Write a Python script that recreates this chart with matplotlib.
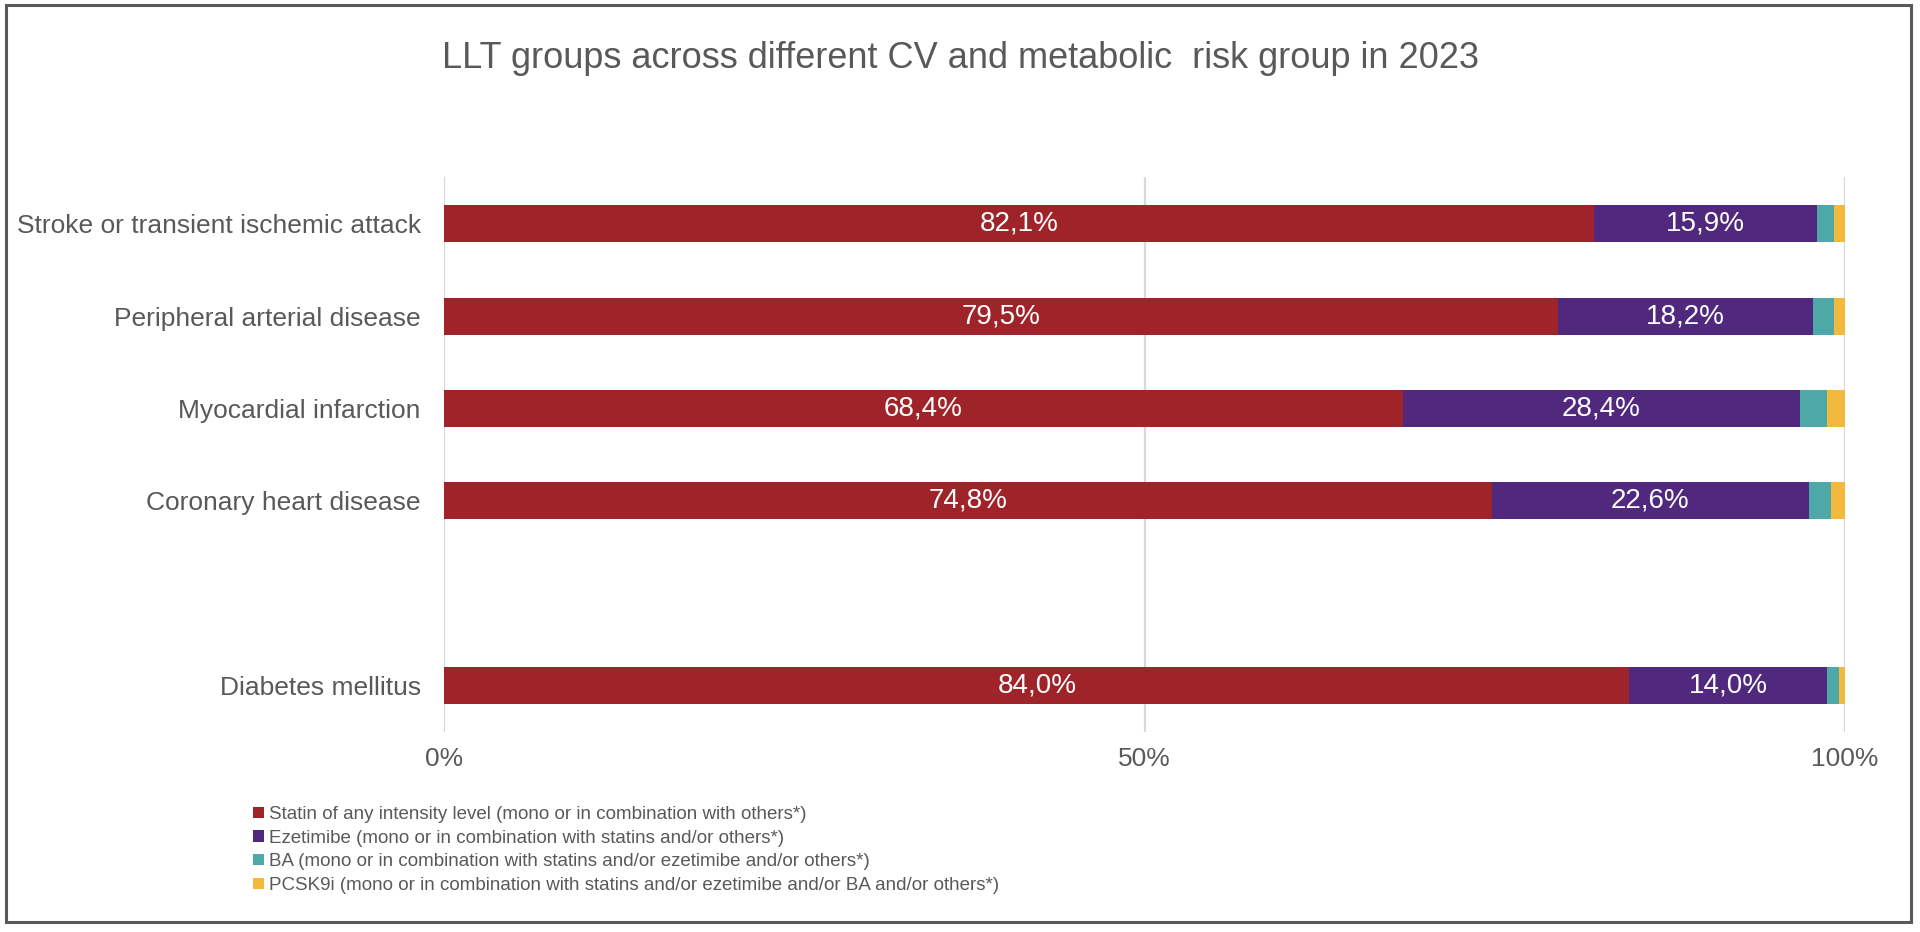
import numpy as np
import matplotlib
matplotlib.use("Agg")
import matplotlib.pyplot as plt
from matplotlib.patches import Rectangle

plt.rcParams['font.family'] = ['Liberation Sans', 'DejaVu Sans']

# data (blank row keeps the gap before diabetes)
categories = ["Diabetes mellitus", "", "Coronary heart disease", "Myocardial infarction",
              "Peripheral arterial disease", "Stroke or transient ischemic attack"]
statin = [84.0, 0, 74.8, 68.4, 79.5, 82.1]
ezetimibe = [14.0, 0, 22.6, 28.4, 18.2, 15.9]
ba = [0.9, 0, 1.6, 1.9, 1.5, 1.2]
pcsk9i = [0.4, 0, 1.0, 1.3, 0.8, 0.8]

series_names = [
    "Statin of any intensity level (mono or in combination with others*)",
    "Ezetimibe (mono or in combination with statins and/or others*)",
    "BA (mono or in combination with statins and/or ezetimibe and/or others*)",
    "PCSK9i (mono or in combination with statins and/or ezetimibe and/or BA and/or others*)",
]
colors = ["#9E242A", "#50287D", "#4FA8A8", "#F2B93D"]
title = "LLT groups across different CV and metabolic  risk group in 2023"
xticks = [0, 50, 100]
xticklabels = ["0%", "50%", "100%"]

grey = "#595959"

fig = plt.figure(figsize=(19.2, 9.32), dpi=100)
ax = fig.add_axes([0.2315, 0.2146, 0.7295, 0.595])

data = np.array([statin, ezetimibe, ba, pcsk9i], dtype=float)
totals = data.sum(axis=0)
totals[totals == 0] = 1
shares = data / totals * 100
y = np.arange(len(categories))

ax.grid(axis='x', color='#D9D9D9', linewidth=1.6)
ax.set_axisbelow(True)

left = np.zeros(len(categories))
for i in range(4):
    bars = ax.barh(y, shares[i], left=left, height=0.4, color=colors[i],
                   label=series_names[i])
    if i < 2:
        for j, b in enumerate(bars):
            if data[i][j] > 0:
                ax.text(b.get_x() + b.get_width() / 2, b.get_y() + b.get_height() / 2,
                        f"{data[i][j]:.1f}%".replace(".", ","), color="white",
                        fontsize=20, ha="center", va="center")
    left += shares[i]

ax.set_xlim(0, 100)
ax.set_ylim(-0.5, len(categories) - 0.5)
ax.set_yticks(y)
ax.set_yticklabels(categories, fontsize=19, color=grey)
ax.set_xticks(xticks)
ax.set_xticklabels(xticklabels, fontsize=19, color=grey)
ax.tick_params(axis='y', length=0, pad=17)
ax.tick_params(axis='x', length=0, pad=11)
for s in ax.spines.values():
    s.set_visible(False)

fig.text(0.50, 0.937, title, fontsize=26, color=grey, ha="center", va="center")

fig.legend(loc="upper left", bbox_to_anchor=(0.132, 0.135), frameon=False,
           fontsize=13.5, labelcolor=grey, handlelength=0.55, handleheight=0.55,
           handletextpad=0.3, labelspacing=0.35, borderaxespad=0, borderpad=0)

fig.patches.append(Rectangle((6 / 1920, 1 - 922 / 932), 1905 / 1920, 917 / 932,
                             transform=fig.transFigure, fill=False,
                             edgecolor=grey, linewidth=2.2))

fig.savefig("out.png", dpi=100)
